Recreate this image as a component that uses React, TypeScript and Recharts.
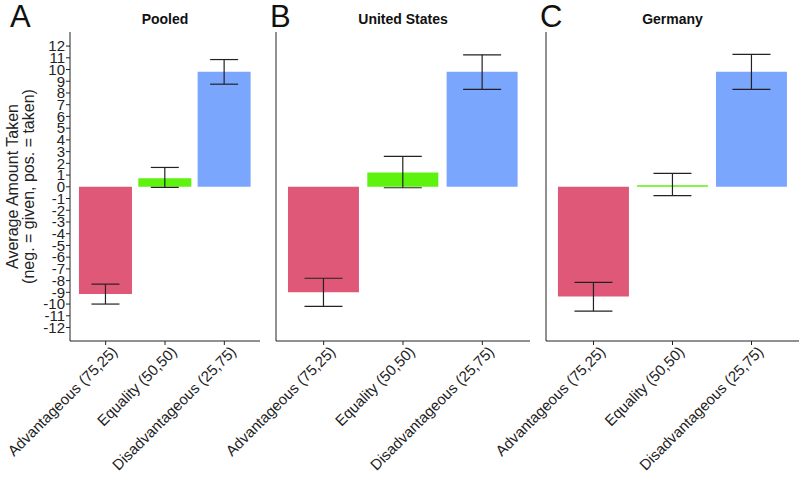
import { BarChart, Bar, XAxis, YAxis, Cell, ErrorBar } from 'recharts'

const categories = ['Advantageous (75,25)', 'Equality (50,50)', 'Disadvantageous (25,75)']
const barColors = ['#e05878', '#5ef20f', '#7ba6fd']

const pooledMean = [-9.15, 0.72, 9.8]
const pooledLow = [-10.0, -0.05, 8.75]
const pooledHigh = [-8.3, 1.65, 10.85]

const usMean = [-9.0, 1.22, 9.8]
const usLow = [-10.2, -0.08, 8.3]
const usHigh = [-7.8, 2.6, 11.25]

const deMean = [-9.35, 0.14, 9.8]
const deLow = [-10.6, -0.75, 8.3]
const deHigh = [-8.15, 1.15, 11.3]

const yTicks = [-12, -11, -10, -9, -8, -7, -6, -5, -4, -3, -2, -1, 0, 1, 2, 3, 4, 5, 6, 7, 8, 9, 10, 11, 12]

const FONT = '"Liberation Sans", Arial, sans-serif'

function buildRows(mean: number[], low: number[], high: number[]) {
  return categories.map((name, i) => ({
    name,
    value: mean[i],
    err: [mean[i] - low[i], high[i] - mean[i]],
  }))
}

function AngledTick({ x, y, payload }: any) {
  return (
    <g transform={`translate(${x},${y})`}>
      <text
        x={0}
        y={0}
        dx={5}
        dy={13}
        textAnchor="end"
        transform="rotate(-45)"
        fontSize={15}
        fill="#222"
        fontFamily={FONT}
      >
        {payload.value}
      </text>
    </g>
  )
}

function YLabel({ viewBox }: any) {
  const cy = viewBox.y + viewBox.height / 2
  return (
    <g fontFamily={FONT} fontSize={16} fill="#222">
      <text transform={`translate(18,${cy}) rotate(-90)`} textAnchor="middle">
        Average Amount Taken
      </text>
      <text transform={`translate(34,${cy}) rotate(-90)`} textAnchor="middle">
        (neg. = given, pos. = taken)
      </text>
    </g>
  )
}

interface PanelProps {
  letter: string
  title: string
  left: number
  width: number
  axisWidth: number
  marginRight: number
  pad: number
  capWidth: number
  mean: number[]
  low: number[]
  high: number[]
  showY?: boolean
}

// each panel spans the page from x=0 so its rotated labels are never clipped
function Panel({ letter, title, left, width, axisWidth, marginRight, pad, capWidth, mean, low, high, showY }: PanelProps) {
  const data = buildRows(mean, low, high)
  const plotLeft = left + axisWidth
  const plotRight = left + width - marginRight
  const center = (plotLeft + plotRight) / 2
  return (
    <div style={{ position: 'absolute', left: 0, top: 0, width: left + width, height: 478 }}>
      <BarChart
        width={left + width}
        height={478}
        data={data}
        margin={{ top: 32, right: marginRight, bottom: 0, left }}
        barCategoryGap="5%"
      >
        <XAxis
          dataKey="name"
          height={137}
          interval={0}
          tick={<AngledTick />}
          tickSize={4}
          axisLine={{ stroke: '#222' }}
          tickLine={{ stroke: '#222' }}
          padding={{ left: pad, right: pad }}
        />
        <YAxis
          width={axisWidth}
          domain={[-13.15, 13.2]}
          ticks={yTicks}
          interval={0}
          tick={showY ? { fontSize: 15, fill: '#222', fontFamily: FONT } : false}
          tickSize={showY ? 4 : 0}
          tickMargin={1}
          axisLine={{ stroke: '#222' }}
          tickLine={showY ? { stroke: '#222' } : false}
          label={showY ? <YLabel /> : undefined}
        />
        <Bar dataKey="value" isAnimationActive={false}>
          {data.map((d, i) => (
            <Cell key={d.name} fill={barColors[i]} />
          ))}
          <ErrorBar dataKey="err" width={capWidth} stroke="#222" strokeWidth={1.2} />
        </Bar>
      </BarChart>
      <div
        style={{
          position: 'absolute',
          left: center - 80,
          width: 160,
          top: 11,
          textAlign: 'center',
          fontFamily: FONT,
          fontWeight: 'bold',
          fontSize: 14,
          color: '#111',
        }}
      >
        {title}
      </div>
      <div
        style={{
          position: 'absolute',
          left: letter === 'A' ? 10 : plotLeft - 6,
          top: -1,
          fontFamily: FONT,
          fontSize: 31,
          color: '#111',
        }}
      >
        {letter}
      </div>
    </div>
  )
}

export default function App() {
  return (
    <div style={{ position: 'absolute', left: 0, top: 0, width: 800, height: 478, background: '#fff' }}>
      <Panel
        letter="A"
        title="Pooled"
        left={0}
        width={262}
        axisWidth={70}
        marginRight={2}
        pad={6}
        capWidth={14}
        mean={pooledMean}
        low={pooledLow}
        high={pooledHigh}
        showY
      />
      <Panel
        letter="B"
        title="United States"
        left={266}
        width={266}
        axisWidth={10}
        marginRight={2}
        pad={8}
        capWidth={19}
        mean={usMean}
        low={usLow}
        high={usHigh}
      />
      <Panel
        letter="C"
        title="Germany"
        left={536}
        width={264}
        axisWidth={10}
        marginRight={1}
        pad={8}
        capWidth={19}
        mean={deMean}
        low={deLow}
        high={deHigh}
      />
    </div>
  )
}
